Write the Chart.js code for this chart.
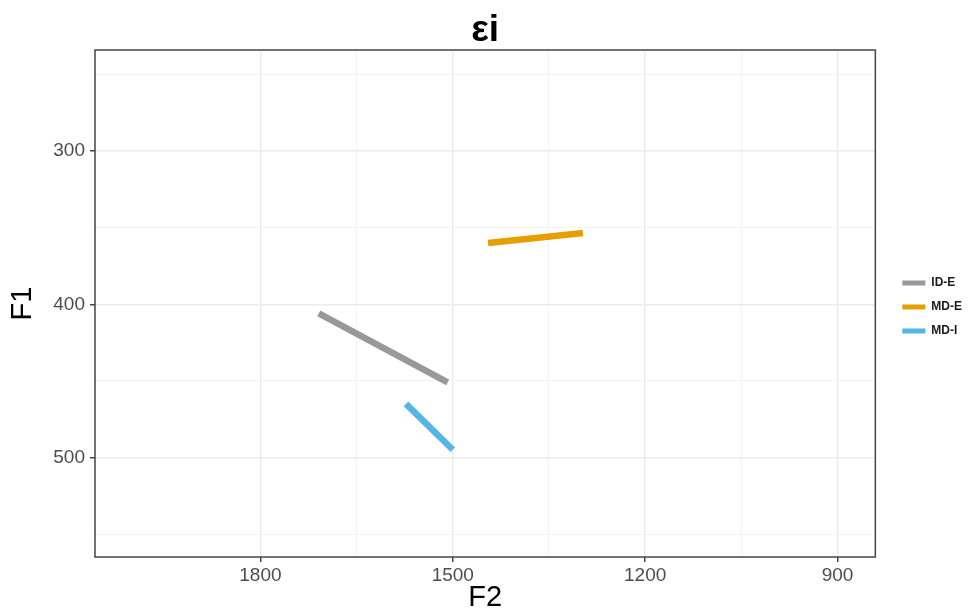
<!DOCTYPE html>
<html>
<head>
<meta charset="utf-8">
<script src="https://cdn.jsdelivr.net/npm/chart.js@4"></script>
<style>
  body { margin: 0; background: #fff; }
</style>
</head>
<body>
<canvas id="myChart" width="973" height="614"></canvas>
<script>
// data
var seriesNames = ['ID-E', 'MD-E', 'MD-I'];
var seriesColors = ['#999999', '#E69F00', '#56B4E9'];
var idE_F2 = [1709, 1508];
var idE_F1 = [406, 451];
var mdE_F2 = [1445, 1297];
var mdE_F1 = [360, 353.5];
var mdI_F2 = [1573, 1500];
var mdI_F1 = [465, 495];

var xMajor = [1800, 1500, 1200, 900];
var xGrid = [1800, 1650, 1500, 1350, 1200, 1050, 900];
var yMajor = [300, 400, 500];
var yGrid = [250, 300, 350, 400, 450, 500, 550];

function pts(xs, ys) {
  return xs.map(function(x, i) { return { x: x, y: ys[i] }; });
}
var allF2 = [idE_F2, mdE_F2, mdI_F2];
var allF1 = [idE_F1, mdE_F1, mdI_F1];

var font = "'Liberation Sans', Arial, sans-serif";

// panel border like ggplot theme_bw, legend nudged right, title centred on panel
var panelBox = {
  id: 'panelBox',
  afterLayout: function(chart) {
    if (chart.legend) { chart.legend.left += 15; chart.legend.right += 15; }
    if (chart.titleBlock) {
      chart.titleBlock.left = chart.chartArea.left;
      chart.titleBlock.right = chart.chartArea.right;
      chart.titleBlock.width = chart.chartArea.right - chart.chartArea.left;
    }
  },
  afterDraw: function(chart) {
    var a = chart.chartArea, c = chart.ctx;
    c.save();
    c.strokeStyle = '#444444';
    c.lineWidth = 1.5;
    c.strokeRect(a.left, a.top, a.right - a.left, a.bottom - a.top);
    c.restore();
  }
};

function gridOpts(majors) {
  return {
    color: function(ctx) { return majors.indexOf(ctx.tick && ctx.tick.value) >= 0 ? '#EBEBEB' : '#F3F3F3'; },
    lineWidth: function(ctx) { return majors.indexOf(ctx.tick && ctx.tick.value) >= 0 ? 1.5 : 1; },
    tickColor: function(ctx) { return majors.indexOf(ctx.tick && ctx.tick.value) >= 0 ? '#444444' : 'rgba(0,0,0,0)'; },
    tickLength: 5,
    tickWidth: 1.5
  };
}

var ctx = document.getElementById('myChart').getContext('2d');
var chart = new Chart(ctx, {
  type: 'scatter',
  data: {
    datasets: seriesNames.map(function(name, i) {
      return {
        label: name,
        data: pts(allF2[i], allF1[i]),
        showLine: true,
        borderColor: seriesColors[i],
        backgroundColor: seriesColors[i],
        borderWidth: 6.5,
        borderCapStyle: 'butt',
        pointRadius: 0,
        pointHoverRadius: 0
      };
    })
  },
  options: {
    responsive: false,
    animation: false,
    layout: { padding: { left: 0, right: 16, top: 0, bottom: 0 } },
    plugins: {
      title: {
        display: true,
        text: 'εi',
        color: '#000',
        font: { family: font, size: 37, weight: 'bold', lineHeight: 1 },
        padding: { top: 12, bottom: 1 }
      },
      legend: {
        position: 'right',
        labels: {
          boxWidth: 23,
          boxHeight: 5,
          padding: 12,
          color: '#1a1a1a',
          font: { family: font, size: 12, weight: 'bold' },
          generateLabels: function(c) {
            return Chart.defaults.plugins.legend.labels.generateLabels(c).map(function(l) {
              l.lineWidth = 0;
              l.strokeStyle = 'rgba(0,0,0,0)';
              return l;
            });
          }
        }
      },
      tooltip: { enabled: false }
    },
    scales: {
      x: {
        type: 'linear',
        reverse: true,
        min: 841,
        max: 2058,
        afterBuildTicks: function(s) { s.ticks = xGrid.map(function(v) { return { value: v }; }); },
        afterFit: function(s) { s.height = 57; },
        grid: gridOpts(xMajor),
        border: { display: false },
        ticks: {
          autoSkip: false,
          maxRotation: 0,
          padding: 2,
          color: '#4D4D4D',
          font: { family: font, size: 19 },
          callback: function(v) { return xMajor.indexOf(v) >= 0 ? String(v) : ''; }
        },
        title: {
          display: true,
          text: 'F2',
          color: '#000',
          font: { family: font, size: 29, lineHeight: 1 },
          padding: { top: 0, bottom: 2 }
        }
      },
      y: {
        type: 'linear',
        reverse: true,
        min: 234,
        max: 565,
        afterBuildTicks: function(s) { s.ticks = yGrid.map(function(v) { return { value: v }; }); },
        afterFit: function(s) { s.width = 95; },
        grid: gridOpts(yMajor),
        border: { display: false },
        ticks: {
          autoSkip: false,
          padding: 5,
          color: '#4D4D4D',
          font: { family: font, size: 19 },
          callback: function(v) { return yMajor.indexOf(v) >= 0 ? String(v) : ''; }
        },
        title: {
          display: true,
          text: 'F1',
          color: '#000',
          font: { family: font, size: 29, lineHeight: 1 },
          padding: { top: 8, bottom: 8 }
        }
      }
    }
  },
  plugins: [panelBox]
});
</script>
</body>
</html>
